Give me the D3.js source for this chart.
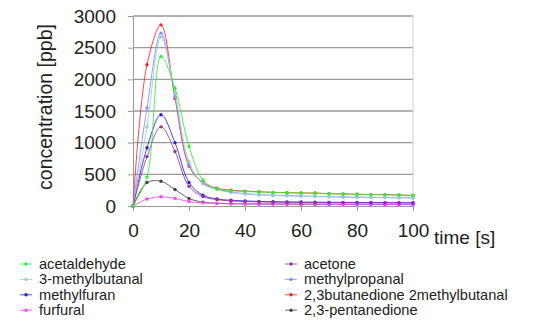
<!DOCTYPE html>
<html>
<head>
<meta charset="utf-8">
<script src="https://cdn.jsdelivr.net/npm/d3@7"></script>
<style>
  body { margin: 0; background: #fff; }
  text { font-family: "Liberation Sans", Arial, sans-serif; fill: #222; }
</style>
</head>
<body>
<svg id="chart" width="549" height="320"></svg>
<script>
var width = 549,
    height = 320;

// time points [s]
var times = [0, 5, 10, 15, 20, 25, 30, 35, 40, 45, 50, 55, 60, 65, 70, 75, 80, 85, 90, 95, 100];

var names = ['acetaldehyde', 'acetone', '3-methylbutanal', 'methylpropanal',
    'methylfuran', '2,3butanedione 2methylbutanal', 'furfural', '2,3-pentanedione'];
var colors = ['#33ee33', '#993399', '#99cccc', '#8888ff', '#2222ee', '#ff2222', '#ff44ff', '#444444'];

var acetaldehyde = [0, 460, 2360, 1860, 940, 410, 270, 240, 230, 220, 215, 210, 205, 200, 195, 190, 185, 180, 178, 175, 170];
var acetone = [0, 780, 1250, 860, 310, 150, 100, 80, 70, 65, 60, 58, 56, 55, 54, 53, 52, 52, 51, 50, 50];
var methylbutanal = [0, 1250, 2670, 1780, 700, 350, 260, 210, 190, 175, 165, 160, 155, 150, 145, 140, 138, 135, 132, 130, 128];
var methylpropanal = [0, 1550, 2730, 1730, 650, 360, 270, 220, 195, 180, 170, 165, 158, 152, 148, 143, 140, 137, 134, 132, 130];
var methylfuran = [0, 920, 1440, 1000, 370, 170, 110, 90, 80, 72, 68, 65, 62, 60, 58, 57, 56, 55, 54, 53, 52];
var butanedione = [0, 2230, 2860, 1700, 630, 370, 280, 250, 235, 225, 215, 210, 205, 205, 195, 190, 185, 180, 178, 172, 165];
var furfural = [0, 110, 145, 120, 70, 50, 42, 38, 35, 33, 32, 31, 30, 30, 29, 28, 28, 27, 27, 26, 26];
var pentanedione = [0, 370, 390, 260, 120, 60, 42, 36, 33, 31, 30, 29, 28, 28, 27, 27, 26, 26, 25, 25, 25];

var yTicks = [0, 500, 1000, 1500, 2000, 2500, 3000];
var xTicks = [0, 20, 40, 60, 80, 100];

var series = [
    { name: names[0], color: colors[0], values: acetaldehyde },
    { name: names[1], color: colors[1], values: acetone },
    { name: names[2], color: colors[2], values: methylbutanal },
    { name: names[3], color: colors[3], values: methylpropanal },
    { name: names[4], color: colors[4], values: methylfuran },
    { name: names[5], color: colors[5], values: butanedione },
    { name: names[6], color: colors[6], values: furfural },
    { name: names[7], color: colors[7], values: pentanedione }
];

var PLOT = { LEFT: 133, RIGHT: 413, TOP: 16, BOTTOM: 206 };

var xScale = d3.scaleLinear().domain([0, 100]).range([PLOT.LEFT, PLOT.RIGHT]);
var yScale = d3.scaleLinear().domain([0, 3000]).range([PLOT.BOTTOM, PLOT.TOP]);

var svg = d3.select('#chart');

// gridlines
svg.append('g')
    .attr('class', 'grid')
    .selectAll('line')
    .data(yTicks.slice(1))
    .enter()
    .append('line')
    .attr('x1', PLOT.LEFT)
    .attr('x2', PLOT.RIGHT)
    .attr('y1', function (d) { return yScale(d); })
    .attr('y2', function (d) { return yScale(d); })
    .attr('stroke', '#9a9a9a')
    .attr('stroke-width', 1.3);

// right border
svg.append('line')
    .attr('x1', PLOT.RIGHT).attr('x2', PLOT.RIGHT)
    .attr('y1', PLOT.TOP).attr('y2', PLOT.BOTTOM)
    .attr('stroke', '#d0d0d0');

var yAxis = d3.axisLeft(yScale)
    .tickValues(yTicks)
    .tickFormat(d3.format('d'))
    .tickSize(5)
    .tickPadding(12);

var xAxis = d3.axisBottom(xScale)
    .tickValues(xTicks)
    .tickFormat(d3.format('d'))
    .tickSize(5)
    .tickPadding(13);

var gy = svg.append('g')
    .attr('transform', 'translate(' + PLOT.LEFT + ',0)')
    .call(yAxis);

var gx = svg.append('g')
    .attr('transform', 'translate(0,' + PLOT.BOTTOM + ')')
    .call(xAxis);

[gx, gy].forEach(function (g) {
    g.select('.domain').attr('stroke', '#999');
    g.selectAll('.tick line').attr('stroke', '#999');
    g.selectAll('.tick text')
        .style('font-size', '19px')
        .attr('fill', '#222');
});

svg.append('text')
    .attr('transform', 'translate(52,107) rotate(-90)')
    .style('font-size', '19.5px')
    .style('text-anchor', 'middle')
    .text('concentration [ppb]');

svg.append('text')
    .attr('x', 434)
    .attr('y', 244)
    .style('font-size', '19px')
    .text('time [s]');

// series
var line = d3.line()
    .x(function (d, i) { return xScale(times[i]); })
    .y(function (d) { return yScale(d); })
    .curve(d3.curveCatmullRom.alpha(0.5));

var draw = function () {
    var g = svg.selectAll('g.series')
        .data(series.slice().reverse())
        .enter()
        .append('g')
        .attr('class', 'series');

    g.append('path')
        .attr('d', function (d) { return line(d.values); })
        .attr('fill', 'none')
        .attr('stroke', function (d) { return d.color; })
        .attr('stroke-width', 1)
        .attr('opacity', 0.85);

    g.each(function (s) {
        d3.select(this).selectAll('circle')
            .data(s.values)
            .enter()
            .append('circle')
            .attr('cx', function (d, i) { return xScale(times[i]); })
            .attr('cy', function (d) { return yScale(d); })
            .attr('r', 1.7)
            .attr('fill', s.color);
    });
};
draw();

// legend, two columns
var legend = svg.selectAll('g.legend')
    .data(series)
    .enter()
    .append('g')
    .attr('class', 'legend')
    .attr('transform', function (d, i) {
        var col = i % 2, row = Math.floor(i / 2);
        return 'translate(' + (col === 0 ? 20 : 285) + ',' + (264 + row * 15.4) + ')';
    });

legend.append('line')
    .attr('x1', 0).attr('x2', 12)
    .attr('stroke', function (d) { return d.color; })
    .attr('opacity', 0.8);

legend.append('circle')
    .attr('cx', 6).attr('r', 1.7)
    .attr('fill', function (d) { return d.color; });

legend.append('text')
    .attr('x', 19)
    .attr('y', 5)
    .style('font-size', '14.6px')
    .text(function (d) { return d.name; });
</script>
</body>
</html>
